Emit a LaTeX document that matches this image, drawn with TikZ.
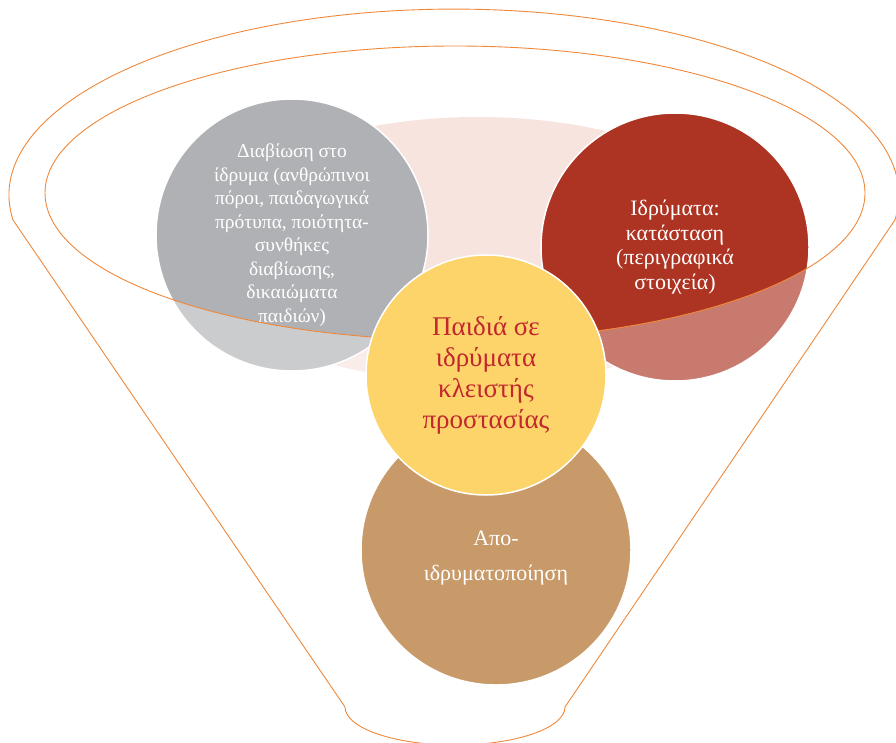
\documentclass[tikz,border=0pt]{standalone}
\usepackage{fontspec}
\setmainfont{Liberation Serif}
\usepackage{tikz}

\definecolor{funnelorange}{HTML}{F0883A}
\definecolor{bubblegrey}{HTML}{B0B1B5}
\definecolor{bubblered}{HTML}{AD3423}
\definecolor{bubblepink}{HTML}{F8E4DE}
\definecolor{bubbleyellow}{HTML}{FDD46A}
\definecolor{bubblebrown}{HTML}{C89A6A}
\definecolor{titlered}{HTML}{C1272D}

\tikzset{
  bubble/.style={circle, draw=white, line width=1.5pt, align=center, inner sep=0pt},
  funnelline/.style={draw=funnelorange, line width=0.9pt}
}

\begin{document}
\begin{tikzpicture}[x=1pt, y=-1pt]
    \useasboundingbox (0,0) rectangle (896,743);

    % Pink background behind the three top bubbles
    \fill[bubblepink] (478,250) ellipse [x radius=285, y radius=133];

    % Top bubbles
    \node[bubble, fill=bubblegrey, minimum size=272pt, text=white,
          font=\fontsize{19.5}{23.5}\selectfont] (living) at (292,235)
      {Διαβίωση στο\\ ίδρυμα (ανθρώπινοι\\ πόροι, παιδαγωγικά\\ πρότυπα, ποιότητα-\\ συνθήκες\\ διαβίωσης,\\ δικαιώματα\\ παιδιών)};
    \node[bubble, fill=bubblered, minimum size=268pt, text=white,
          font=\fontsize{22}{24.5}\selectfont] (institutions) at (675,247)
      {Ιδρύματα:\\ κατάσταση\\ (περιγραφικά\\ στοιχεία)};

    % Funnel body lightens what lies below the rim
    \fill[white, opacity=0.35, even odd rule]
      (13,220) arc[start angle=172.3, end angle=367.7, x radius=445, y radius=186]
      -- (565,707) arc[start angle=0, end angle=180, x radius=110, y radius=38]
      -- cycle
      (455,193) ellipse [x radius=410, y radius=147];

    % Funnel outline
    \draw[funnelline]
      (13,220) arc[start angle=172.3, end angle=367.7, x radius=445, y radius=186]
      -- (565,707) arc[start angle=0, end angle=180, x radius=110, y radius=38]
      -- cycle;
    \draw[funnelline] (455,193) ellipse [x radius=410, y radius=147];

    % Bottom and centre bubbles
    \node[bubble, fill=bubblebrown, minimum size=270pt] (deinst) at (496,550) {};
    \node[text=white, align=center, font=\fontsize{22}{35}\selectfont]
      (deinsttext) at ([yshift=-8pt]deinst.center) {Απο-\\ ιδρυματοποίηση};
    \node[bubble, fill=bubbleyellow, minimum size=240pt, text=titlered,
          font=\fontsize{27}{31}\selectfont] (children) at (486,375)
      {Παιδιά σε\\ ιδρύματα\\ κλειστής\\ προστασίας};
\end{tikzpicture}
\end{document}
